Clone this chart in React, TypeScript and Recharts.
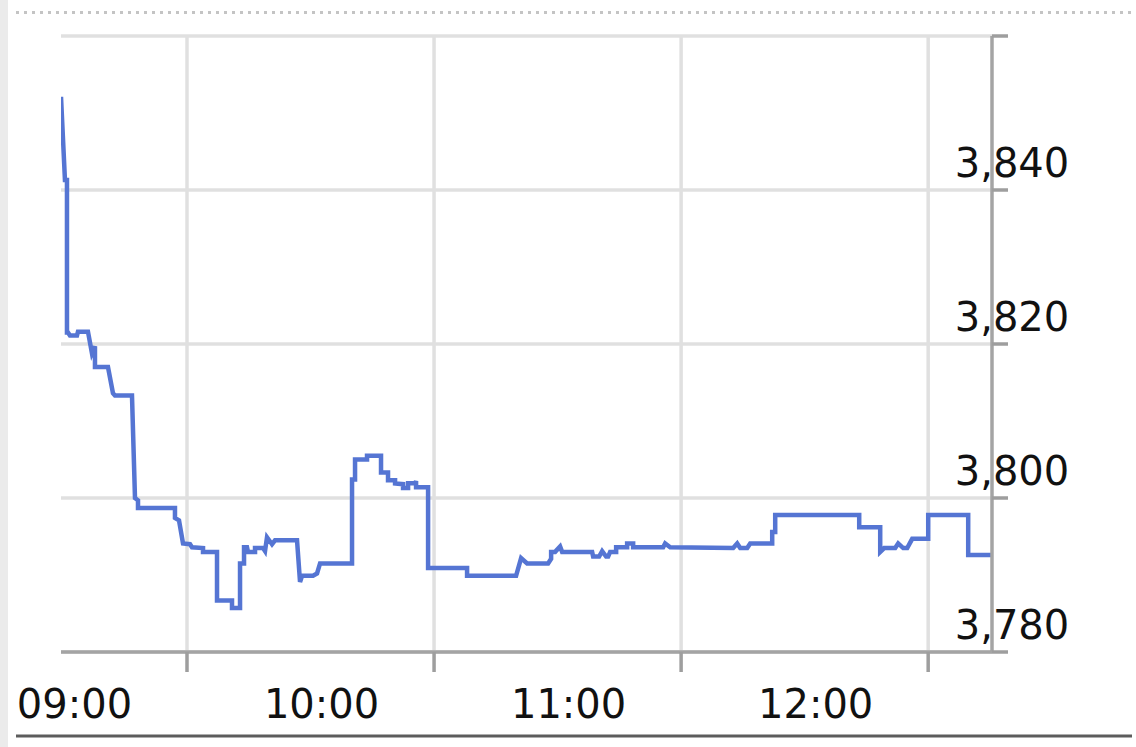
import React from "react";
import { LineChart, Line, XAxis, YAxis, CartesianGrid } from "recharts";

// minutes after 09:00
const times = [-0.6, 0.36, 0.85, 0.85, 1.09, 1.58, 3.28, 3.52, 5.95, 6.92, 7.65, 7.65, 10.81, 12.02, 12.51, 16.64, 17.37, 18.1, 18.1, 27.08, 27.08, 28.06, 29.03, 30.73, 31.21, 33.89, 33.89, 37.29, 37.29, 40.93, 40.93, 42.88, 42.88, 43.85, 43.85, 44.57, 44.82, 46.52, 46.52, 48.46, 48.95, 49.43, 50.65, 51.38, 56.72, 57.45, 57.94, 60.61, 61.58, 62.31, 70.08, 70.08, 70.81, 70.81, 73.72, 73.72, 77.12, 77.12, 78.82, 78.82, 80.53, 80.53, 82.47, 82.47, 83.69, 83.69, 85.39, 85.63, 85.63, 88.55, 88.55, 98.02, 98.02, 109.92, 111.14, 112.6, 117.7, 118.43, 118.43, 119.4, 120.61, 121.1, 128.39, 128.63, 130.09, 130.82, 131.79, 132.28, 132.76, 134.22, 134.22, 136.89, 136.89, 138.35, 138.35, 145.64, 146.12, 147.34, 162.64, 163.62, 164.35, 166.05, 166.78, 172.12, 172.12, 172.85, 172.85, 193.25, 193.25, 198.35, 198.35, 199.32, 201.99, 202.72, 203.94, 204.91, 206.12, 210.01, 210.01, 219.72, 219.72, 225.5];

const prices = [3852.1, 3841.3, 3841.3, 3821.5, 3821.5, 3821.1, 3821.1, 3821.6, 3821.6, 3818.8, 3819.7, 3817.0, 3817.0, 3813.6, 3813.3, 3813.3, 3800.0, 3799.7, 3798.7, 3798.7, 3797.4, 3797.1, 3794.1, 3794.0, 3793.6, 3793.5, 3793.0, 3793.0, 3786.7, 3786.7, 3785.7, 3785.7, 3791.5, 3791.5, 3793.6, 3793.6, 3793.0, 3793.0, 3793.5, 3793.5, 3793.1, 3794.9, 3794.0, 3794.5, 3794.5, 3789.1, 3789.9, 3789.9, 3790.2, 3791.5, 3791.5, 3802.4, 3802.4, 3805.0, 3805.0, 3805.5, 3805.5, 3803.3, 3803.3, 3802.3, 3802.3, 3801.9, 3801.8, 3801.3, 3801.3, 3801.9, 3801.9, 3802.2, 3801.4, 3801.4, 3790.9, 3790.9, 3789.9, 3789.9, 3792.2, 3791.5, 3791.5, 3792.1, 3793.0, 3793.0, 3793.7, 3793.0, 3793.0, 3792.4, 3792.4, 3793.1, 3792.4, 3792.4, 3793.0, 3793.0, 3793.6, 3793.6, 3794.1, 3794.1, 3793.6, 3793.6, 3794.1, 3793.6, 3793.5, 3794.1, 3793.5, 3793.5, 3794.1, 3794.1, 3795.6, 3795.6, 3797.8, 3797.8, 3796.2, 3796.2, 3793.0, 3793.5, 3793.5, 3794.1, 3793.5, 3793.5, 3794.7, 3794.7, 3797.8, 3797.8, 3792.6, 3792.6];

const gridTicks = [30, 90, 150, 210];
const hourTicks = [0, 60, 120, 180];
const hourLabels = ["09:00", "10:00", "11:00", "12:00"];
const priceTicks = [3780, 3800, 3820, 3840, 3860];
const xDomain = [-0.6, 225.5];
const yDomain = [3780, 3860];

const data = times.map((t, i) => ({ t, v: prices[i] }));

const FONT = "'DejaVu Sans', Verdana, sans-serif";

const HourTick = (props: any) => {
  const { x, y, payload } = props;
  const idx = hourTicks.indexOf(payload.value);
  const label = idx >= 0 ? hourLabels[idx] : "";
  return (
    <text x={x + 11} y={y + 46} textAnchor="middle" fontFamily={FONT} fontSize={40} fill="#111">
      {label}
    </text>
  );
};

const PriceTick = (props: any) => {
  const { x, y, payload } = props;
  if (payload.value === priceTicks[priceTicks.length - 1]) return <g />;
  return (
    <text x={x} y={y - 13} textAnchor="middle" fontFamily={FONT} fontSize={40} fill="#111">
      {payload.value.toLocaleString("en-US")}
    </text>
  );
};

const EmptyTick = () => <g />;

export default function App() {
  return (
    <div style={{ position: "absolute", left: 0, top: 0, width: 1136, height: 747, background: "#fff", overflow: "hidden" }}>
      <div style={{ position: "absolute", left: 0, top: 0, width: 8, height: 747, background: "#ebebeb" }} />
      <svg width={1136} height={747} style={{ position: "absolute", left: 0, top: 0 }}>
        <line x1={16} x2={1132} y1={12.5} y2={12.5} stroke="#c4c4c4" strokeWidth={3} strokeDasharray="3 5" />
        <line x1={16} x2={1132} y1={736} y2={736} stroke="#5c5c5c" strokeWidth={3} />
      </svg>
      <div style={{ position: "absolute", left: 0, top: 0 }}>
        <LineChart width={1136} height={747} data={data} margin={{ top: 36, left: 61, right: 0, bottom: 15 }}>
          <CartesianGrid xAxisId="g" stroke="#e0e0e0" strokeWidth={3.5} syncWithTicks />
          <XAxis
            xAxisId="g"
            dataKey="t"
            type="number"
            domain={xDomain}
            ticks={gridTicks}
            allowDataOverflow
            height={20}
            tickSize={20}
            tick={EmptyTick}
            tickLine={{ stroke: "#9e9e9e", strokeWidth: 3.5 }}
            axisLine={{ stroke: "#a4a4a4", strokeWidth: 3.5 }}
          />
          <XAxis
            xAxisId="l"
            dataKey="t"
            type="number"
            domain={xDomain}
            ticks={hourTicks}
            allowDataOverflow
            height={60}
            tickSize={0}
            tickMargin={0}
            axisLine={false}
            tickLine={false}
            tick={HourTick}
          />
          <YAxis
            orientation="right"
            type="number"
            domain={yDomain}
            ticks={priceTicks}
            allowDataOverflow
            width={144}
            tickSize={16}
            tickMargin={4}
            tick={PriceTick}
            tickLine={{ stroke: "#9e9e9e", strokeWidth: 3.5 }}
            axisLine={{ stroke: "#a4a4a4", strokeWidth: 3.5 }}
          />
          <Line
            xAxisId="l"
            type="linear"
            dataKey="v"
            stroke="#5574cf"
            strokeOpacity={0}
            strokeWidth={1}
            dot={false}
            activeDot={false}
            isAnimationActive={false}
          />
          <Line
            xAxisId="g"
            type="linear"
            dataKey="v"
            stroke="#5575d3"
            strokeWidth={4.5}
            dot={false}
            activeDot={false}
            isAnimationActive={false}
          />
        </LineChart>
      </div>
    </div>
  );
}
